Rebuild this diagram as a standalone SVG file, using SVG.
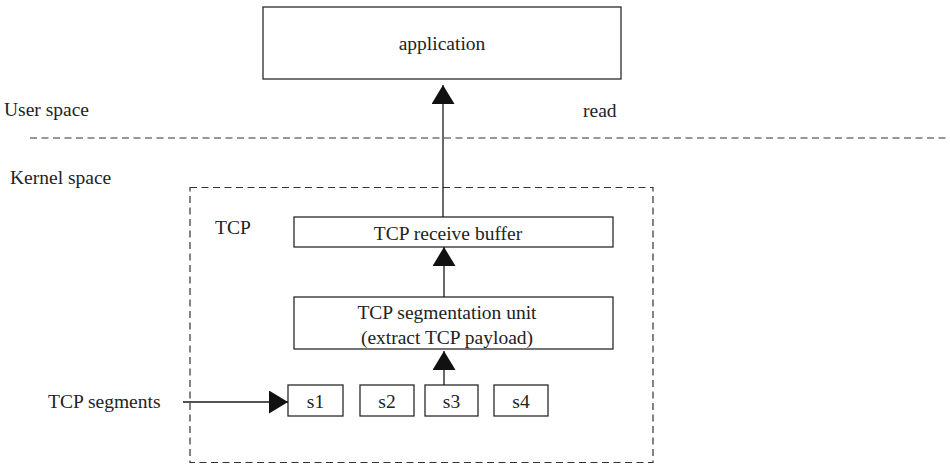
<svg xmlns="http://www.w3.org/2000/svg" width="950" height="466" viewBox="0 0 950 466" font-family="'Liberation Serif', 'DejaVu Serif', serif">
<style>
text{font-family:'Liberation Serif','DejaVu Serif',serif;font-size:19.5px;fill:#222}
.box{fill:#fff;stroke:#2a2a2a;stroke-width:1.3}
.dash{fill:none;stroke:#333;stroke-width:1.2;stroke-dasharray:7 4.5}
.conn{fill:none;stroke:#1a1a1a;stroke-width:1.3}
.c{text-anchor:middle}
</style>
<defs>
<marker id="ah" markerUnits="userSpaceOnUse" markerWidth="20" markerHeight="24" refX="19" refY="11.5" orient="auto">
<path d="M0,0 L19,11.5 L0,23 Z" fill="#111"/>
</marker>
</defs>
<g id="regions">
<line class="dash" x1="30" y1="138" x2="950" y2="138"/>
<text x="4" y="116">User space</text>
<text x="10" y="184">Kernel space</text>
<text x="583" y="117">read</text>
</g>
<g id="tcp-container">
<rect class="dash" x="190" y="187.5" width="463" height="275"/>
<text x="215" y="234">TCP</text>
</g>
<g id="application">
<rect class="box" x="263" y="7" width="358" height="72"/>
<text class="c" x="442" y="50">application</text>
</g>
<g id="receive-buffer">
<rect class="box" x="294" y="217" width="319" height="30"/>
<text class="c" x="448" y="240">TCP receive buffer</text>
</g>
<g id="segmentation-unit">
<rect class="box" x="294" y="297" width="319" height="52"/>
<text class="c" x="447" y="319">TCP segmentation unit</text>
<text class="c" x="447" y="344">(extract TCP payload)</text>
</g>
<g id="s1">
<rect class="box" x="288" y="385" width="55" height="31"/>
<text class="c" x="315.5" y="408">s1</text>
</g>
<g id="s2">
<rect class="box" x="360" y="385" width="54" height="31"/>
<text class="c" x="387" y="408">s2</text>
</g>
<g id="s3">
<rect class="box" x="425" y="385" width="53" height="31"/>
<text class="c" x="451.5" y="408">s3</text>
</g>
<g id="s4">
<rect class="box" x="494" y="385" width="54" height="31"/>
<text class="c" x="521" y="408">s4</text>
</g>
<g id="segments-label">
<text x="48" y="408">TCP segments</text>
</g>
<g id="connectors">
<line class="conn" x1="443" y1="217" x2="443" y2="85" marker-end="url(#ah)"/>
<line class="conn" x1="444" y1="297" x2="444" y2="247" marker-end="url(#ah)"/>
<line class="conn" x1="444" y1="385" x2="444" y2="351" marker-end="url(#ah)"/>
<line class="conn" x1="183" y1="402" x2="288" y2="402" marker-end="url(#ah)"/>
</g>
</svg>
